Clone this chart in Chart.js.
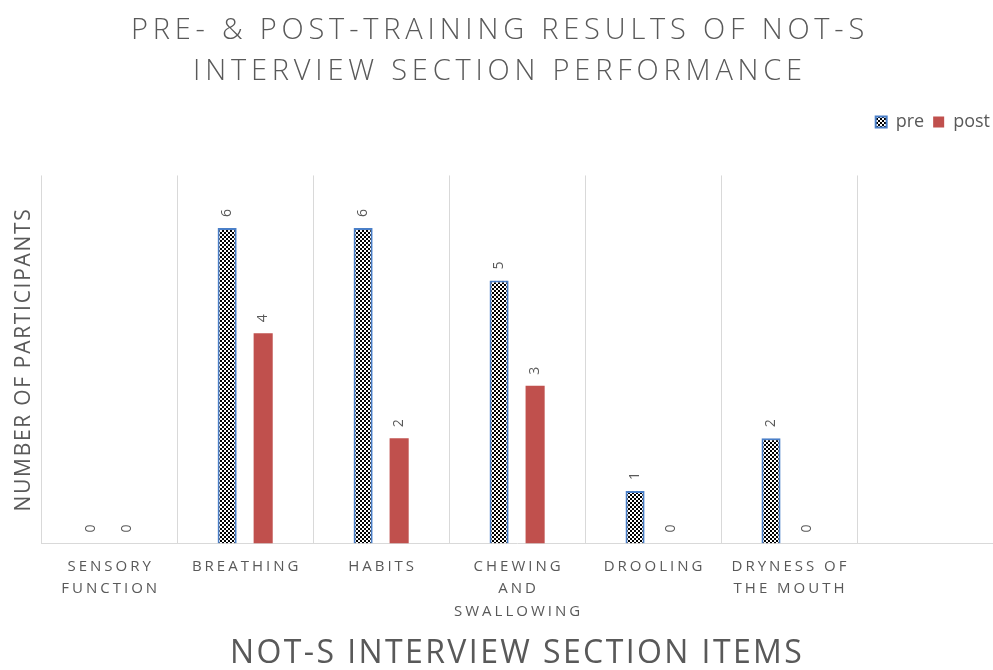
<!DOCTYPE html>
<html><head><meta charset="utf-8">
<script src="https://cdn.jsdelivr.net/npm/chart.js@4/dist/chart.umd.min.js"></script>
<style>html,body{margin:0;padding:0;background:#fff}#wrap{width:993px;height:670px}</style>
</head><body><div id="wrap"><canvas id="c" width="993" height="670"></canvas></div>
<script>
const categories = [["SENSORY","FUNCTION"],["BREATHING"],["HABITS"],["CHEWING","AND","SWALLOWING"],["DROOLING"],["DRYNESS OF","THE MOUTH"],[""]];
const preValues = [0,6,6,5,1,2,null];
const postValues = [0,4,2,3,0,0,null];
const seriesNames = ["pre","post"];
const titleLines = ["PRE- & POST-TRAINING RESULTS OF NOT-S","INTERVIEW SECTION PERFORMANCE"];
const xAxisTitle = "NOT-S INTERVIEW SECTION ITEMS";
const yAxisTitle = "NUMBER OF PARTICIPANTS";

const TXT = '#595959';
const FONT = "'Open Sans', 'DejaVu Sans', sans-serif";

function checker(){
  const c = document.createElement('canvas'); c.width = 4; c.height = 4;
  const g = c.getContext('2d');
  g.fillStyle = '#fff'; g.fillRect(0,0,4,4);
  g.fillStyle = '#000'; g.fillRect(0,0,2,2); g.fillRect(2,2,2,2);
  return document.getElementById('c').getContext('2d').createPattern(c,'repeat');
}

function wrapSpacing(obj, fn, sp){
  if (!obj || obj['_ws_' + fn]) return;
  const f = obj[fn];
  obj[fn] = function(...a){
    const c = this.ctx; const prev = c.letterSpacing;
    c.letterSpacing = sp;
    try { return f.apply(this, a); } finally { c.letterSpacing = prev; }
  };
  obj['_ws_' + fn] = true;
}

const customText = {
  id: 'customText',
  beforeLayout(chart){
    const lg = chart.legend;
    if (lg && !lg._wrapped){
      const f = lg.fit;
      lg.fit = function(){ f.call(this); this.height += 34.5; };
      const d = lg.draw;
      lg.draw = function(...a){
        const c = this.ctx; c.save(); c.translate(6, 0);
        try { return d.apply(this, a); } finally { c.restore(); }
      };
      lg._wrapped = true;
    }
  },
  afterLayout(chart){
    wrapSpacing(chart.titleBlock, 'draw', '4.8px');
    wrapSpacing(chart.scales.x, 'drawTitle', '2.4px');
    wrapSpacing(chart.scales.y, 'drawTitle', '1.7px');
  },
  afterDatasetsDraw(chart){
    const ctx = chart.ctx;
    ctx.save();
    ctx.fillStyle = TXT;
    ctx.font = "14px " + FONT;
    ctx.textAlign = 'left';
    ctx.textBaseline = 'middle';
    chart.data.datasets.forEach((ds, di) => {
      const meta = chart.getDatasetMeta(di);
      meta.data.forEach((el, i) => {
        const v = ds.data[i];
        if (v === null || v === undefined) return;
        ctx.save();
        ctx.translate(el.x, el.y - 11);
        ctx.rotate(-Math.PI/2);
        ctx.fillText(String(v), 0, 0);
        ctx.restore();
      });
    });
    ctx.restore();
  },
  afterDraw(chart){
    const ctx = chart.ctx;
    const xs = chart.scales.x;
    const bottom = chart.chartArea.bottom;
    ctx.save();
    ctx.fillStyle = TXT;
    ctx.font = "15px " + FONT;
    ctx.letterSpacing = '3px';
    ctx.textAlign = 'center';
    ctx.textBaseline = 'middle';
    chart.data.labels.forEach((lab, i) => {
      const x = xs.getPixelForValue(i) + 1.5;
      lab.forEach((line, j) => {
        ctx.fillText(line, x, bottom + 23 + j * 22.5);
      });
    });
    ctx.restore();
  }
};

new Chart(document.getElementById('c'), {
  type: 'bar',
  data: {
    labels: categories,
    datasets: [
      { label: seriesNames[0], data: preValues, backgroundColor: checker(), borderColor: '#4a7fc8', borderWidth: 2,
        categoryPercentage: 0.53, barPercentage: 0.53 },
      { label: seriesNames[1], data: postValues, backgroundColor: '#c0504d', borderWidth: 0,
        categoryPercentage: 0.53, barPercentage: 0.53 }
    ]
  },
  options: {
    responsive: false,
    animation: false,
    layout: { padding: { left: 7, right: 0, top: 0, bottom: 0 } },
    plugins: {
      title: { display: true, text: titleLines, color: TXT,
        font: { family: FONT, size: 29, weight: '300', lineHeight: 1.43 },
        padding: { top: 9.75, bottom: 11.25 } },
      legend: { display: true, position: 'top', align: 'end',
        labels: { color: TXT, font: { family: FONT, size: 18 }, boxWidth: 11, boxHeight: 11, padding: 9 } },
      tooltip: { enabled: false }
    },
    scales: {
      x: {
        grid: { display: true, offset: true, color: '#d9d9d9', drawTicks: false },
        border: { display: true, color: '#d9d9d9' },
        ticks: { color: 'rgba(0,0,0,0)', font: { family: FONT, size: 15, lineHeight: 1.5 }, padding: 4, maxRotation: 0, autoSkip: false },
        title: { display: true, text: xAxisTitle, color: TXT, font: { family: FONT, size: 32, lineHeight: 1.0 }, padding: { top: 19, bottom: 0 } }
      },
      y: {
        min: 0, max: 7,
        grid: { display: false, drawTicks: false },
        border: { display: false },
        ticks: { display: false },
        title: { display: true, text: yAxisTitle, color: TXT, font: { family: FONT, size: 21, lineHeight: 1.2 }, padding: { top: 4, bottom: 5 } }
      }
    }
  },
  plugins: [customText]
});
</script>
</body></html>
